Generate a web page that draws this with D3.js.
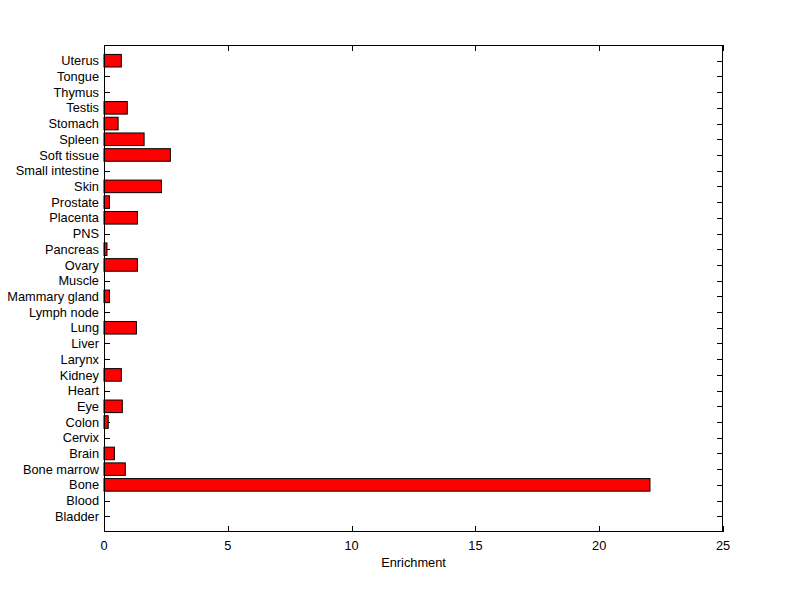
<!DOCTYPE html>
<html><head><meta charset="utf-8">
<script src="https://cdn.jsdelivr.net/npm/d3@7"></script>
<style>body{margin:0;background:#fff;} text{font-family:"Liberation Sans",Arial,sans-serif;}</style>
</head><body>
<svg id="c" width="800" height="599"></svg>
<script>
const categories = ["Bladder","Blood","Bone","Bone marrow","Brain","Cervix","Colon","Eye","Heart","Kidney","Larynx","Liver","Lung","Lymph node","Mammary gland","Muscle","Ovary","Pancreas","PNS","Placenta","Prostate","Skin","Small intestine","Soft tissue","Spleen","Stomach","Testis","Thymus","Tongue","Uterus"];
const values = [0,0,22.05,0.86,0.42,0,0.17,0.74,0,0.70,0,0,1.31,0,0.22,0,1.35,0.12,0,1.35,0.22,2.32,0,2.68,1.62,0.57,0.94,0,0,0.70];
const xTicks = [0,5,10,15,20,25];
const xLabel = "Enrichment";

const svg = d3.select("#c");
const L=104, R=723, T=45, B=532;
const x = d3.scaleLinear().domain([0,25]).range([L,R]);
const y = d3.scaleLinear().domain([0,categories.length+1]).range([B,T]);
const bw = 0.8*(y(0)-y(1));
const fs = "12.8px";

svg.append("rect").attr("x",L).attr("y",T).attr("width",R-L).attr("height",B-T).attr("fill","#fff");

const tl=6;
const gy = svg.append("g").attr("stroke","#000").attr("stroke-width",1);
categories.forEach((c,i)=>{
  const yy = Math.round(y(i+1))+0.5;
  gy.append("line").attr("x1",L).attr("x2",L+tl).attr("y1",yy).attr("y2",yy);
  gy.append("line").attr("x1",R).attr("x2",R-tl).attr("y1",yy).attr("y2",yy);
});
xTicks.forEach(t=>{
  const xx = Math.round(x(t))+0.5;
  gy.append("line").attr("x1",xx).attr("x2",xx).attr("y1",B).attr("y2",B-tl);
  gy.append("line").attr("x1",xx).attr("x2",xx).attr("y1",T).attr("y2",T+tl);
});

svg.append("g").selectAll("rect").data(values).join("rect")
  .attr("x",x(0)).attr("y",(d,i)=>y(i+1)-bw/2)
  .attr("width",d=>x(d)-x(0)).attr("height",bw)
  .attr("fill","#ff0000").attr("stroke","#000").attr("stroke-width",1);

svg.append("g").selectAll("text").data(categories).join("text")
  .attr("x",L-5).attr("y",(d,i)=>y(i+1)).attr("dy","0.36em")
  .attr("text-anchor","end").attr("font-size",fs).text(d=>d);

svg.append("g").selectAll("text").data(xTicks).join("text")
  .attr("x",d=>x(d)).attr("y",B+18).attr("text-anchor","middle").attr("font-size",fs).text(d=>d);

svg.append("text").attr("x",(L+R)/2).attr("y",B+35).attr("text-anchor","middle").attr("font-size",fs).text(xLabel);

svg.append("rect").attr("x",L+0.5).attr("y",T+0.5).attr("width",R-L-1).attr("height",B-T-1)
  .attr("fill","none").attr("stroke","#000").attr("stroke-width",1);
</script>
</body></html>
